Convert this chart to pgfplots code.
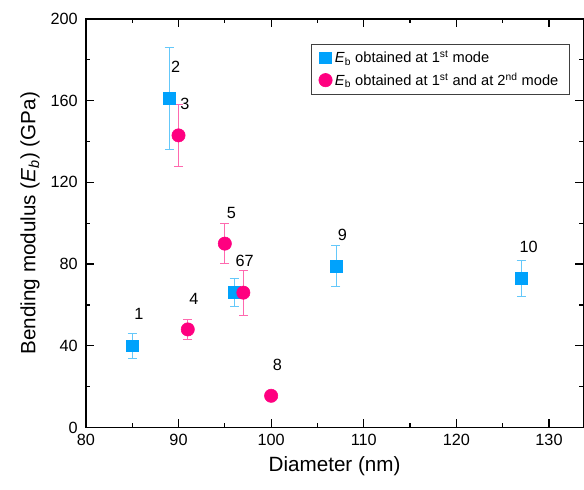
\documentclass[border=0pt]{standalone}
\usepackage{pgfplots}
\pgfplotsset{compat=1.18}
\usepackage{fontspec}
\setmainfont{Liberation Sans}
\definecolor{cblue}{RGB}{0,162,252}
\definecolor{cbluel}{RGB}{100,200,250}
\definecolor{cpink}{RGB}{255,0,128}
\definecolor{cpinkl}{RGB}{255,105,175}

\begin{document}
\begin{tikzpicture}
\begin{axis}[
  name=ax,
  scale only axis,
  width=373.5pt, height=306.75pt,
  xmin=80, xmax=133.7, ymin=0, ymax=200,
  xtick={80,90,...,130}, minor x tick num=1,
  ytick={0,40,...,200}, minor y tick num=1,
  tick align=inside,
  major tick length=6pt, minor tick length=3.2pt,
  axis line style={line width=1.1pt},
  every tick/.style={black, line width=0.9pt},
  /pgf/number format/assume math mode=true,
  ticklabel style={font=\fontsize{12.2}{14}\selectfont},
  xticklabel style={inner sep=0pt, yshift=-4.5pt, anchor=north},
  yticklabel style={inner sep=0pt, xshift=-6pt, anchor=east},
  xlabel={Diameter (nm)},
  ylabel={Bending modulus (\textit{E}\textsubscript{\textit{b}}) (GPa)},
  every axis x label/.style={at={(rel axis cs:0.5,0)}, yshift=-29pt, anchor=center,
    font=\fontsize{15.5}{17}\selectfont},
  every axis y label/.style={at={(rel axis cs:0,0.5)}, xshift=-42pt, rotate=90, anchor=center,
    font=\fontsize{15.5}{17}\selectfont},
  legend style={at={(rel axis cs:0.972,0.939)}, anchor=north east,
    draw=black!75, line width=0.5pt,
    font=\fontsize{11}{12}\selectfont,
    row sep=2pt, inner xsep=6pt, inner ysep=3pt},
  legend cell align=left,
  clip=false,
]
\addplot[only marks, mark=square*, mark size=4.5pt, cblue,
  error bars/.cd, y dir=both, y explicit,
  error bar style={cbluel, line width=0.7pt},
  error mark options={rotate=90, mark size=3.4pt, cbluel, line width=0.7pt}]
  coordinates {
  (85,40) +- (0,6)
  (89,161) +- (0,25)
  (96,66) +- (0,7)
  (107,79) +- (0,10)
  (127,73) +- (0,9)
};
\addlegendentry{\textit{E}\textsubscript{b} obtained at 1\textsuperscript{st} mode}
\addplot[only marks, mark=*, mark size=5pt, cpink,
  error bars/.cd, y dir=both, y explicit,
  error bar style={cpinkl, line width=0.7pt},
  error mark options={rotate=90, mark size=3.4pt, cpinkl, line width=0.7pt}]
  coordinates {
  (90,143) +- (0,15)
  (91,48) +- (0,5)
  (95,90) +- (0,9.8)
  (97,66) +- (0,11)
  (100,15.5) +- (0,0)
};
\addlegendentry{\textit{E}\textsubscript{b} obtained at 1\textsuperscript{st} and at 2\textsuperscript{nd} mode}

\begin{scope}[every node/.style={font=\fontsize{12.2}{14}\selectfont, inner sep=0pt}]
\node at (axis cs:85.72,55.6) {1};
\node at (axis cs:89.68,176.7) {2};
\node at (axis cs:90.68,158.4) {3};
\node at (axis cs:91.65,63.1) {4};
\node at (axis cs:95.72,105) {5};
\node at (axis cs:97.15,81.3) {67};
\node at (axis cs:100.68,30.5) {8};
\node at (axis cs:107.69,94.4) {9};
\node at (axis cs:127.8,88.4) {10};
\end{scope}
\end{axis}
% page margins as in the reference
\path (ax.south west) ++(-64.5pt,-46.5pt) coordinate (bl);
\path (ax.north east) ++(0pt,14.25pt) coordinate (tr);
\path (bl) (tr);
\end{tikzpicture}
\end{document}
